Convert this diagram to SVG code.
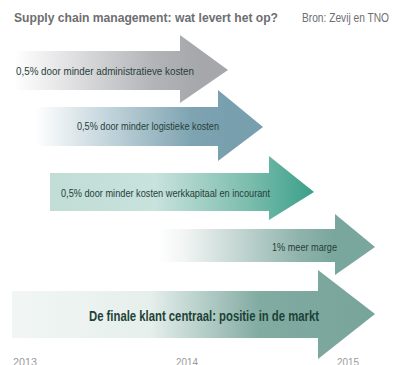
<svg xmlns="http://www.w3.org/2000/svg" width="400" height="365" viewBox="0 0 400 365">
  <style>
    .title { font-family: "Liberation Sans", Arial, sans-serif; font-weight: bold; font-size: 13px; fill: #6d6e71; }
    .src { font-family: "Liberation Sans", Arial, sans-serif; font-size: 12px; fill: #6d6e71; }
    .lbl { font-family: "Liberation Sans", Arial, sans-serif; font-size: 11px; fill: #263f38; }
    .big { font-family: "Liberation Sans", Arial, sans-serif; font-weight: bold; font-size: 14px; fill: #1c4236; }
    .year { font-family: "Liberation Sans", Arial, sans-serif; font-size: 11px; fill: #9a9a9a; }
  </style>
  <defs>
    <linearGradient id="g1" gradientUnits="userSpaceOnUse" x1="14" y1="0" x2="200" y2="0">
      <stop offset="0" stop-color="#ffffff"/>
      <stop offset="0.75" stop-color="#b3b4b8"/>
      <stop offset="1" stop-color="#a6a7ab"/>
    </linearGradient>
    <linearGradient id="g2" gradientUnits="userSpaceOnUse" x1="35" y1="0" x2="230" y2="0">
      <stop offset="0" stop-color="#ffffff"/>
      <stop offset="0.8" stop-color="#7ea4b2"/>
      <stop offset="1" stop-color="#789fae"/>
    </linearGradient>
    <linearGradient id="g3" gradientUnits="userSpaceOnUse" x1="50" y1="0" x2="314" y2="0">
      <stop offset="0" stop-color="#c0ddd6"/>
      <stop offset="0.4" stop-color="#c8e2dc"/>
      <stop offset="0.75" stop-color="#7cbdae"/>
      <stop offset="1" stop-color="#3a9f89"/>
    </linearGradient>
    <linearGradient id="g4" gradientUnits="userSpaceOnUse" x1="157" y1="0" x2="335" y2="0">
      <stop offset="0" stop-color="#ffffff"/>
      <stop offset="0.15" stop-color="#f2f5f4"/>
      <stop offset="0.8" stop-color="#8fb3ac"/>
      <stop offset="1" stop-color="#79a69d"/>
    </linearGradient>
    <linearGradient id="g5" gradientUnits="userSpaceOnUse" x1="12" y1="0" x2="375" y2="0">
      <stop offset="0" stop-color="#f1f6f4"/>
      <stop offset="0.38" stop-color="#e6efec"/>
      <stop offset="0.68" stop-color="#82aba2"/>
      <stop offset="1" stop-color="#77a49a"/>
    </linearGradient>
  </defs>

  <text class="title" x="14" y="22" textLength="264" lengthAdjust="spacingAndGlyphs">Supply chain management: wat levert het op?</text>
  <text class="src" x="302" y="22" textLength="87" lengthAdjust="spacingAndGlyphs">Bron: Zevij en TNO</text>

  <g id="arrow-admin">
    <polygon points="14,51 180,51 180,35 228,70 180,103 180,90 14,90" fill="url(#g1)"/>
    <text class="lbl" x="16" y="74.5" textLength="178" lengthAdjust="spacingAndGlyphs">0,5% door minder administratieve kosten</text>
  </g>

  <g id="arrow-logistiek">
    <polygon points="35,107 218,107 218,90 263,127 218,161 218,146 35,146" fill="url(#g2)"/>
    <text class="lbl" x="77" y="130" textLength="142" lengthAdjust="spacingAndGlyphs">0,5% door minder logistieke kosten</text>
  </g>

  <g id="arrow-werkkapitaal">
    <polygon points="50,173 269,173 269,156 314,192 269,220 269,211 50,211" fill="url(#g3)"/>
    <text class="lbl" x="61" y="196.5" textLength="209" lengthAdjust="spacingAndGlyphs">0,5% door minder kosten werkkapitaal en incourant</text>
  </g>

  <g id="arrow-marge">
    <polygon points="157,229 335,229 335,214 375,247 335,275 335,262 157,262" fill="url(#g4)"/>
    <text class="lbl" x="272" y="250.5" textLength="65" lengthAdjust="spacingAndGlyphs">1% meer marge</text>
  </g>

  <g id="arrow-klant">
    <polygon points="12,291 318,291 318,270 375,314 318,359 318,338 12,338" fill="url(#g5)"/>
    <text class="big" x="89" y="320.5" textLength="230" lengthAdjust="spacingAndGlyphs">De finale klant centraal: positie in de markt</text>
  </g>

  <g id="years">
    <text class="year" x="13" y="365.5" textLength="24" lengthAdjust="spacingAndGlyphs">2013</text>
    <text class="year" x="176" y="365.5" textLength="22" lengthAdjust="spacingAndGlyphs">2014</text>
    <text class="year" x="337" y="365.5" textLength="22" lengthAdjust="spacingAndGlyphs">2015</text>
  </g>
</svg>
